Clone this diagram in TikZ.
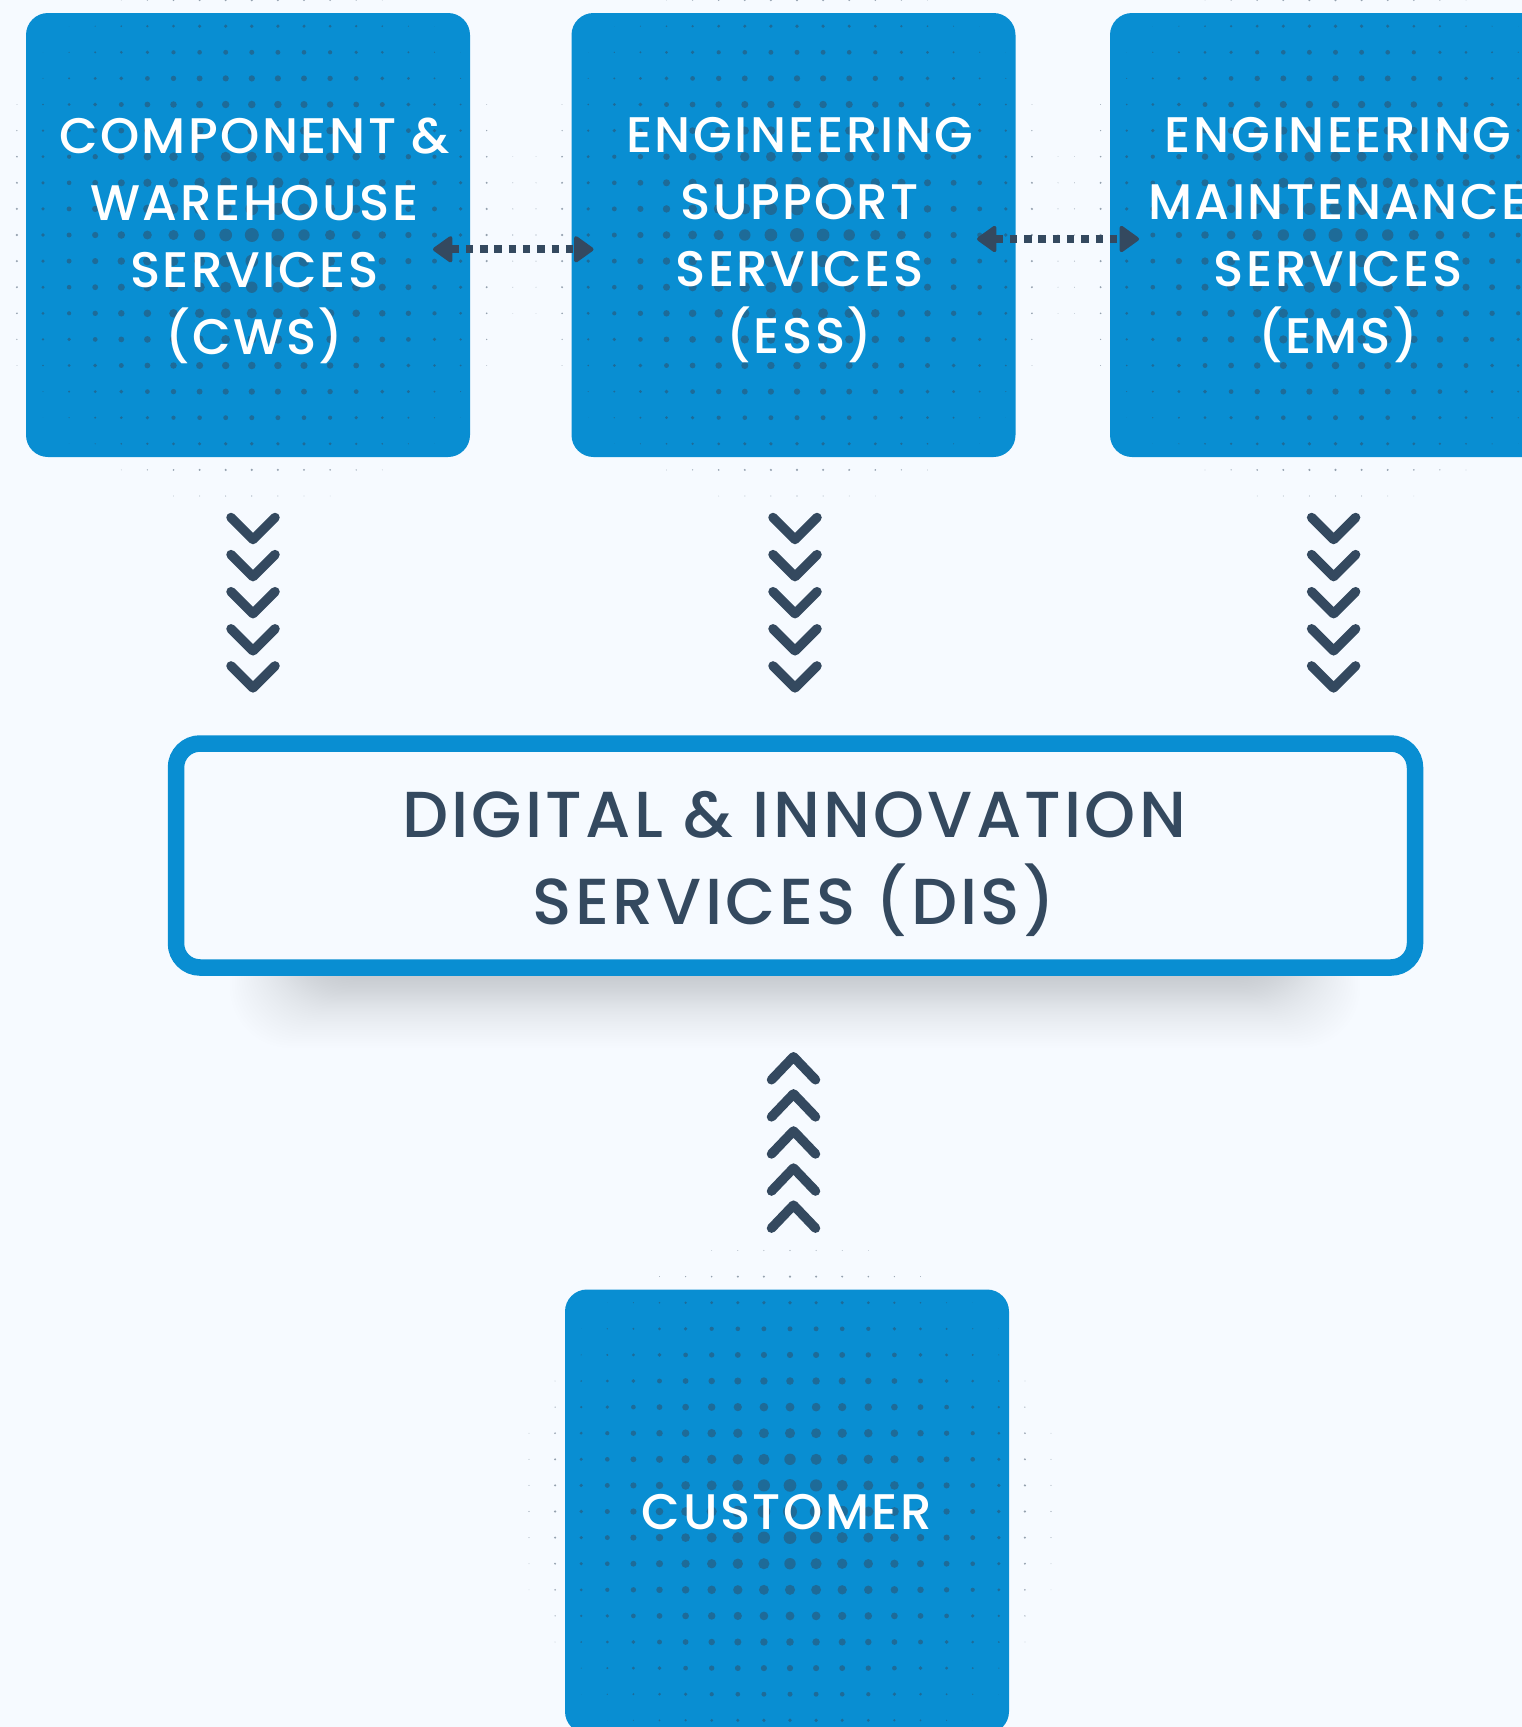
\documentclass[tikz,border=0pt]{standalone}
\usepackage{fontspec}
\setmainfont{Poppins Medium}[LetterSpace=5]
\usetikzlibrary{calc,arrows.meta}
\definecolor{bgc}{HTML}{F6FAFF}
\definecolor{boxc}{HTML}{098ED2}
\definecolor{navy}{HTML}{34495F}
\tikzset{
  x=1pt,y=-1pt,
  service/.style={fill=boxc,rounded corners=22pt,minimum width=444pt,minimum height=444pt,inner sep=0pt,outer sep=0pt,draw=none},
  lightlabel/.style={text=white,align=center,inner sep=0pt,font=\fontsize{50}{67}\selectfont},
  darklabel/.style={text=navy,align=center,inner sep=0pt,font=\fontsize{65}{87}\selectfont},
  hubbox/.style={draw=boxc,line width=16.5pt,fill=bgc,rounded corners=24pt,minimum width=1239pt,minimum height=224pt,inner sep=0pt},
  chevron/.style={draw=navy,line width=9.5pt,line cap=round,line join=round},
  dotlink/.style={draw=navy,line width=8pt,dash pattern=on 7.5pt off 6.8pt,
    {Triangle[length=21pt,width=29pt,line width=4pt,round]}-{Triangle[length=21pt,width=29pt,line width=4pt,round]}},
  chevd/.pic={\draw[chevron] (-22,-22) -- (0,0) -- (22,-22);},
  chevu/.pic={\draw[chevron] (-22,23) -- (0,0) -- (22,23);}
}
\newcommand{\dotgrid}[2]{%
  \foreach \i in {-10,...,10}{\foreach \j in {-10,...,10}{%
    \pgfmathsetmacro{\dd}{sqrt(\i*\i+\j*\j)}%
    \ifdim\dd pt<10.7pt
      \pgfmathsetmacro{\rr}{7*(1-\dd/10.9)}%
      \fill[navy,opacity=0.5] (#1+\i*26.1,#2+\j*26.1) circle[radius=\rr pt];%
    \fi
  }}%
}
\begin{document}
\begin{tikzpicture}
\useasboundingbox (0,0) rectangle (1522,1727);
\clip (0,0) rectangle (1522,1727);
\fill[bgc] (0,0) rectangle (1522,1727);
% shadow
\foreach \k in {0,...,59}{
  \pgfmathsetmacro{\tt}{\k/59}
  \pgfmathsetmacro{\ins}{100*(\tt+0.35*sin(360*\tt)/6.2832)}
  \fill[black,opacity=0.0058,rounded corners=60pt] (230+\ins,800) rectangle (1360-\ins,1048-\ins);
}
% boxes
\node[service] (cws) at (248,235) {};
\node[service] (ess) at (793.5,235) {};
\node[service] (ems) at (1332,235) {};
\node[service] (cust) at (787,1511.5) {};
\dotgrid{251.8}{235}
\dotgrid{797}{235}
\dotgrid{1335.5}{235}
\dotgrid{790}{1511.5}
% labels
\node[lightlabel] (cwst) at (254.5,240.5) {COMPONENT \&\\WAREHOUSE\\SERVICES\\(CWS)};
\node[lightlabel] (esst) at (799.6,240.5) {ENGINEERING\\SUPPORT\\SERVICES\\(ESS)};
\node[lightlabel] (emst) at (1338,240.5) {ENGINEERING\\MAINTENANCE\\SERVICES\\(EMS)};
\node[lightlabel] (custt) at (787,1512.5) {CUSTOMER};
% hub
\node[hubbox] (dis) at (795.5,855.5) {};
\node[darklabel] (dist) at (794,863.5) {DIGITAL \& INNOVATION\\SERVICES (DIS)};
% dotted links
\coordinate (a1) at ($(cws.east)+(-37,14.3)$);
\coordinate (a2) at ($(ess.west)+(22,14.3)$);
\coordinate (b1) at ($(ess.east)+(-38.5,4)$);
\coordinate (b2) at ($(ems.west)+(29,4)$);
\draw[dotlink] (a1) -- (a2);
\draw[dotlink] (b1) -- (b2);
% chevrons
\foreach \n/\dx in {cws/5,ess/1.5,ems/1.6}{
  \foreach \c in {0,...,4}{
    \path ($(\n.south)+(\dx,82.5+\c*37.1)$) pic {chevd};
  }
}
\foreach \c in {0,...,4}{
  \path ($(dis.south)+(-2,81+\c*37.1)$) pic {chevu};
}
\end{tikzpicture}
\end{document}
